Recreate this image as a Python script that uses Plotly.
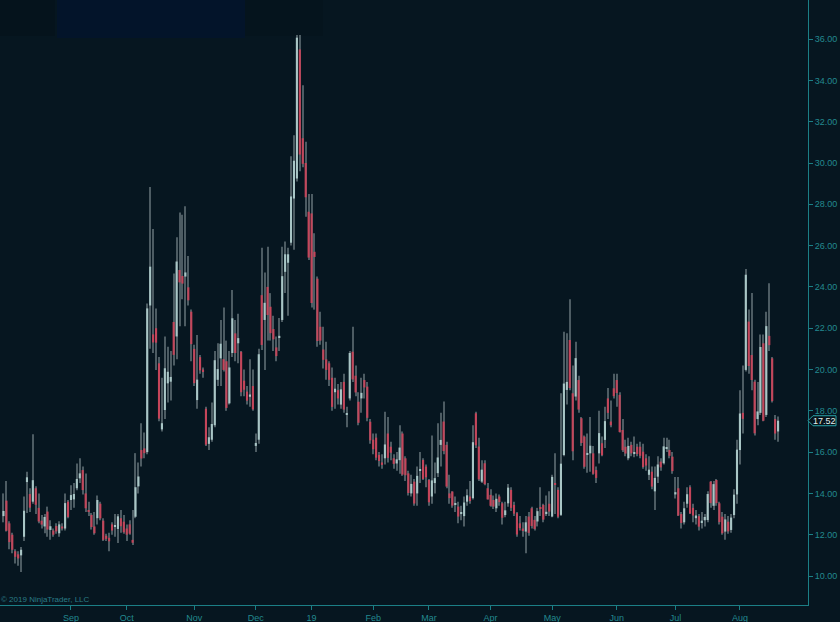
import pandas as pd
import plotly.graph_objects as go

# ---------------- data ----------------
holidays = ["2018-09-03", "2018-11-22", "2018-12-05", "2018-12-25", "2019-01-01",
            "2019-01-21", "2019-02-18", "2019-04-19", "2019-05-27", "2019-07-04"]
dates = pd.bdate_range("2018-08-01", "2019-08-20", freq="C", holidays=holidays)

month_labels = ["Sep", "Oct", "Nov", "Dec", "19", "Feb", "Mar", "Apr", "May", "Jun", "Jul", "Aug"]
y_ticks = [10, 12, 14, 16, 18, 20, 22, 24, 26, 28, 30, 32, 34, 36]

open_ = [
    # Aug 2018
    12.9, 13.65, 12.55, 12.0, 11.2, 11.05, 11.0, 11.9, 14.55, 13.97, 13.6, 14.25, 13.3, 12.68, 12.4, 13.12, 12.23, 12.2, 12.42, 12.07, 12.4, 12.3, 13.6,
    # Sep
    13.68, 13.71, 14.25, 14.73, 15.13, 14.0, 13.2, 12.96, 12.4, 12.8, 13.5, 12.68, 11.95, 11.85, 12.5, 12.4, 12.28, 12.8, 12.63,
    # Oct
    12.3, 12.5, 11.75, 12.87, 14.34, 16.1, 16.18, 16.0, 23.1, 21.7, 22.0, 20.3, 17.1, 18.04, 19.33, 19.41, 22.3, 21.6, 24.82, 24.53, 24.5, 23.98, 22.8,
    # Nov
    21.0, 18.52, 20.6, 20.0, 18.1, 16.4, 16.6, 17.3, 19.5, 20.54, 20.5, 20.4, 18.36, 20.8, 21.75, 21.27, 20.86, 19.46, 18.93, 18.68, 19.2,
    # Dec
    16.3, 16.6, 23.6, 22.4, 24.0, 23.04, 21.96, 21.07, 21.55, 22.4, 24.73, 25.17, 26.14, 28.28, 29.25, 35.5, 31.2, 30.0, 27.64,
    # Jan 2019
    27.56, 25.7, 24.4, 22.07, 20.97, 20.49, 20.3, 19.6, 18.9, 19.0, 18.3, 19.4, 17.8, 18.6, 20.86, 19.7, 18.44, 18.6, 19.49, 19.17, 17.47,
    # Feb
    16.6, 16.7, 15.86, 15.5, 15.7, 16.9, 16.26, 15.7, 15.45, 15.61, 16.9, 15.7, 14.97, 14.0, 14.57, 14.0, 15.1, 15.62, 15.3,
    # Mar
    14.65, 13.85, 14.5, 14.98, 16.35, 17.48, 16.35, 14.0, 14.09, 13.44, 13.36, 13.0, 12.9, 13.6, 13.85, 13.77, 17.88, 16.27, 14.57, 15.46, 14.25,
    # Apr
    13.93, 13.68, 13.28, 13.85, 13.52, 12.95, 13.52, 14.17, 13.44, 13.04, 12.55, 12.3, 12.15, 12.88, 13.28, 12.72, 12.64, 13.3, 13.44, 13.0, 13.5,
    # May
    12.88, 14.5, 14.17, 12.96, 15.86, 19.01, 21.43, 18.85, 18.69, 19.49, 17.64, 16.75, 15.9, 15.94, 15.94, 15.13, 15.94, 16.43, 16.59, 18.6, 17.48, 19.09,
    # Jun
    19.49, 18.77, 17.07, 16.26, 15.7, 16.35, 15.92, 16.26, 16.26, 16.02, 15.7, 14.9, 15.05, 14.1, 14.81, 15.54, 15.46, 16.18, 16.1, 15.78,
    # Jul
    13.95, 14.25, 13.0, 12.6, 13.5, 14.3, 13.3, 12.8, 12.9, 12.6, 12.7, 12.71, 14.57, 13.4, 14.65, 13.52, 12.87, 12.15, 12.63, 12.23, 12.95, 13.95,
    # Aug 2019
    16.1, 17.9, 19.98, 22.32, 20.7, 19.41, 17.6, 17.9, 21.27, 17.8, 21.63, 20.54, 17.6, 17.0,
]
high = [
    14.0, 14.6, 12.65, 12.1, 11.3, 11.2, 11.4, 13.85, 15.05, 14.25, 16.86, 14.35, 14.0, 12.95, 13.0, 13.36, 12.7, 12.3, 12.55, 12.65, 12.55, 14.0, 13.68,
    14.4, 14.5, 15.45, 15.7, 15.3, 14.97, 13.6, 13.05, 13.1, 13.9, 13.6, 12.8, 12.05, 12.1, 12.6, 13.0, 13.0, 13.2, 12.95,
    12.5, 12.7, 13.2, 15.95, 15.5, 17.4, 16.95, 23.2, 28.84, 26.8, 22.95, 20.6, 19.6, 21.6, 21.1, 20.9, 24.65, 26.4, 27.6, 27.5, 27.9, 25.5, 22.9,
    21.2, 21.67, 20.7, 20.1, 18.2, 17.2, 18.4, 20.9, 21.27, 22.4, 23.0, 21.4, 20.9, 23.85, 22.4, 22.7, 20.9, 20.0, 19.2, 20.5, 20.0,
    16.9, 21.0, 25.9, 24.7, 25.94, 23.7, 22.6, 21.6, 22.5, 25.94, 26.2, 25.9, 30.33, 31.35, 36.2, 36.2, 33.77, 31.03, 28.5,
    28.5, 26.6, 24.5, 22.8, 22.07, 21.35, 20.4, 20.1, 19.6, 19.3, 19.4, 19.8, 18.2, 20.9, 22.07, 20.2, 18.9, 19.6, 19.8, 19.4, 17.6,
    16.9, 16.9, 16.0, 15.9, 17.95, 17.7, 16.5, 15.9, 16.0, 17.3, 17.0, 15.8, 15.1, 14.9, 14.7, 15.3, 16.0, 15.7, 15.4,
    14.7, 16.8, 15.5, 17.4, 17.9, 18.45, 16.5, 14.9, 14.1, 13.85, 13.6, 13.4, 13.85, 14.2, 14.6, 17.3, 17.95, 16.7, 15.6, 15.6, 14.5,
    14.2, 13.9, 14.0, 13.95, 13.6, 13.6, 14.45, 14.3, 13.6, 13.1, 12.9, 12.6, 12.9, 13.1, 13.35, 12.9, 13.3, 14.3, 13.5, 13.9, 14.1,
    14.9, 15.95, 14.3, 18.85, 21.83, 21.75, 23.4, 20.2, 21.35, 19.7, 17.7, 16.8, 16.9, 17.7, 16.3, 15.3, 18.0, 16.75, 18.2, 19.1, 18.5, 19.8,
    19.8, 18.9, 17.6, 16.6, 16.7, 16.5, 16.75, 16.4, 16.5, 16.4, 15.9, 15.8, 15.3, 15.3, 15.8, 15.7, 16.7, 16.7, 16.6, 16.0,
    14.8, 14.8, 13.1, 13.6, 14.3, 14.4, 13.5, 13.2, 13.0, 13.1, 13.0, 14.1, 14.6, 14.6, 14.7, 13.6, 13.1, 13.0, 12.9, 13.0, 14.2, 16.6,
    19.0, 20.2, 24.87, 22.9, 23.7, 19.5, 19.4, 21.7, 21.7, 22.8, 24.18, 20.6, 17.8, 17.72,
]
low = [
    12.6, 12.15, 11.3, 11.1, 10.6, 10.5, 10.2, 11.7, 13.05, 13.1, 13.5, 13.0, 12.55, 12.3, 12.07, 11.9, 11.75, 11.9, 12.05, 11.9, 12.2, 12.2, 12.8,
    13.2, 13.3, 14.15, 14.5, 13.95, 13.1, 12.9, 12.25, 12.0, 12.5, 12.7, 11.7, 11.7, 11.2, 12.0, 11.9, 11.6, 12.1, 12.05,
    11.7, 12.0, 11.5, 12.8, 14.0, 15.3, 15.7, 15.9, 21.0, 20.8, 19.98, 17.5, 17.0, 17.6, 18.4, 18.5, 20.2, 20.5, 22.1, 23.4, 22.1, 23.1, 20.4,
    19.2, 18.1, 19.8, 19.6, 16.3, 16.1, 16.5, 17.2, 19.2, 19.2, 19.9, 18.0, 18.3, 20.6, 20.4, 20.3, 18.7, 18.7, 18.3, 18.2, 18.0,
    16.0, 16.4, 20.95, 19.98, 21.4, 21.4, 20.9, 20.4, 20.9, 22.3, 23.7, 22.6, 26.0, 25.8, 29.1, 29.6, 29.8, 27.4, 25.3,
    23.0, 22.9, 21.1, 21.2, 20.05, 19.5, 19.2, 18.0, 18.1, 18.3, 18.1, 17.9, 17.2, 18.5, 19.4, 18.7, 17.3, 17.9, 18.6, 17.5, 16.4,
    15.9, 15.6, 15.3, 15.2, 15.4, 15.5, 15.6, 15.2, 15.1, 14.95, 14.85, 14.6, 13.9, 13.85, 13.4, 13.4, 14.5, 14.65, 14.3,
    13.4, 13.5, 14.0, 14.8, 15.3, 15.9, 14.25, 13.5, 13.3, 13.1, 12.55, 12.7, 12.4, 13.4, 13.5, 13.7, 16.2, 14.6, 14.5, 14.4, 13.7,
    13.35, 13.25, 13.1, 13.4, 12.5, 12.85, 13.35, 13.15, 12.9, 11.9, 12.2, 11.9, 11.1, 11.95, 12.3, 12.2, 12.4, 12.9, 12.6, 12.9, 12.9,
    12.85, 13.0, 12.8, 12.9, 15.8, 18.3, 19.0, 15.6, 18.5, 17.9, 16.3, 15.2, 15.0, 15.05, 14.9, 14.5, 15.45, 15.8, 16.2, 17.6, 17.2, 18.6,
    18.2, 16.95, 16.0, 15.8, 15.6, 15.8, 15.75, 15.8, 15.7, 15.2, 15.1, 14.65, 14.2, 13.2, 14.5, 15.1, 15.4, 16.0, 15.7, 14.95,
    13.75, 12.9, 12.3, 12.5, 13.3, 13.0, 12.6, 12.5, 12.2, 12.3, 12.4, 12.6, 13.3, 13.2, 13.4, 12.5, 12.0, 11.75, 12.05, 12.1, 12.8, 13.5,
    15.4, 16.9, 19.9, 19.8, 19.0, 16.8, 17.3, 17.8, 17.5, 17.7, 20.9, 18.4, 16.6, 16.5,
]
close = [
    13.15, 12.19, 11.64, 11.27, 10.93, 10.85, 11.27, 13.16, 14.78, 13.31, 14.64, 13.45, 12.64, 12.49, 12.86, 12.25, 12.41, 12.0, 12.16, 12.5, 12.3, 13.53, 12.86,
    13.92, 13.97, 14.7, 14.97, 14.16, 13.28, 13.14, 12.37, 12.07, 13.68, 12.79, 11.75, 11.8, 11.68, 12.2, 12.42, 12.89, 12.41, 12.12,
    12.0, 12.05, 11.61, 14.3, 14.82, 15.69, 15.95, 22.96, 24.98, 21.31, 21.3, 17.62, 17.4, 20.06, 19.89, 19.64, 20.71, 25.23, 24.22, 24.16, 24.7, 23.35, 21.23,
    19.34, 19.51, 19.96, 19.91, 16.36, 16.72, 17.36, 20.45, 20.02, 21.25, 19.98, 18.14, 20.1, 22.48, 20.8, 21.52, 18.9, 19.02, 18.49, 18.79, 18.07,
    16.44, 20.74, 21.19, 23.23, 22.64, 21.76, 21.46, 20.65, 21.63, 24.52, 25.58, 25.58, 28.38, 30.11, 36.07, 30.41, 29.96, 28.34, 25.42,
    23.22, 25.45, 21.38, 21.4, 20.47, 19.98, 19.5, 18.19, 19.07, 18.6, 19.04, 18.06, 17.8, 20.8, 19.52, 18.89, 17.42, 18.87, 19.13, 17.66, 16.57,
    16.14, 15.73, 15.57, 15.38, 16.37, 15.72, 15.97, 15.43, 15.65, 16.22, 14.91, 14.88, 14.02, 14.46, 13.51, 14.85, 15.17, 14.7, 14.78,
    13.57, 14.63, 14.74, 15.74, 16.59, 16.05, 14.33, 13.77, 13.41, 13.5, 12.88, 13.1, 13.56, 13.91, 13.63, 16.48, 16.33, 14.68, 15.15, 14.45, 13.71,
    13.4, 13.36, 13.74, 13.58, 12.82, 13.18, 14.28, 13.3, 13.02, 12.01, 12.32, 12.18, 12.6, 12.09, 12.42, 12.28, 13.14, 13.25, 12.73, 13.11, 13.12,
    14.8, 14.42, 12.87, 15.44, 19.32, 19.4, 19.1, 16.04, 20.55, 18.06, 16.44, 15.29, 15.96, 16.31, 14.95, 14.75, 16.92, 15.85, 17.5, 17.9, 17.3, 18.71,
    18.86, 16.97, 16.09, 15.93, 16.3, 15.94, 15.99, 15.91, 15.82, 15.28, 15.35, 15.15, 14.33, 14.75, 15.4, 15.26, 16.28, 16.21, 15.82, 15.08,
    14.06, 12.93, 12.57, 13.28, 13.96, 13.03, 12.93, 12.93, 12.39, 12.68, 12.86, 13.97, 13.53, 14.45, 13.53, 12.61, 12.07, 12.74, 12.16, 12.83, 13.94, 16.12,
    17.87, 17.61, 24.59, 20.17, 19.49, 16.91, 17.97, 21.09, 17.52, 22.1, 21.18, 18.47, 16.9, 17.52,
]

# ---------------- style ----------------
BG = "#061620"
UP = "#a9c6c6"
DOWN = "#c4455a"
WICK = "#4d5c63"
AXIS = "#1b7f86"
TEXT = "#23898f"
FONT = "Liberation Sans, Arial, sans-serif"

n = len(close)
xs = list(range(n))
body_lo = [min(o, c) for o, c in zip(open_, close)]
body_h = [max(abs(c - o), 0.06) for o, c in zip(open_, close)]
body_col = [UP if c >= o else DOWN for o, c in zip(open_, close)]
wick_lo = [min(l, o, c) for l, o, c in zip(low, open_, close)]
wick_h = [max(h, o, c) - wl for h, o, c, wl in zip(high, open_, close, wick_lo)]

# month-start tick positions (first trading day of each month after the first)
tick_pos = []
prev = None
for i, d in enumerate(dates):
    key = (d.year, d.month)
    if key != prev:
        if prev is not None:
            tick_pos.append(i)
        prev = key
tick_pos = tick_pos[:len(month_labels)]

fig = go.Figure()
fig.add_trace(go.Bar(x=xs, base=wick_lo, y=wick_h, width=0.36,
                     marker=dict(color=WICK, line=dict(width=0)), hoverinfo="skip"))
fig.add_trace(go.Bar(x=xs, base=body_lo, y=body_h, width=0.72,
                     marker=dict(color=body_col, line=dict(width=0)), hoverinfo="skip"))

X0, X1 = -1.19, 274.2
Y0, Y1 = 8.596, 37.894

fig.update_layout(
    width=840, height=622,
    margin=dict(l=0, r=32, t=0, b=17),
    paper_bgcolor=BG, plot_bgcolor=BG,
    barmode="overlay", showlegend=False,
    font=dict(family=FONT, size=9, color=TEXT),
    xaxis=dict(range=[X0, X1], showgrid=False, zeroline=False,
               tickmode="array", tickvals=tick_pos, ticktext=month_labels,
               ticks="outside", ticklen=4, tickcolor=AXIS, tickwidth=1,
               showline=True, linecolor=AXIS, linewidth=1,
               tickfont=dict(family=FONT, size=9, color=TEXT), fixedrange=True),
    yaxis=dict(range=[Y0, Y1], side="right", showgrid=False, zeroline=False,
               tickmode="array", tickvals=y_ticks,
               ticktext=[f"{v:.2f}" for v in y_ticks],
               ticks="outside", ticklen=4, tickcolor=AXIS, tickwidth=1,
               showline=True, linecolor=AXIS, linewidth=1,
               tickfont=dict(family=FONT, size=9, color=TEXT), fixedrange=True),
)

# faint header panel at top-left
fig.add_shape(type="rect", xref="paper", yref="paper",
              x0=57 / 808, x1=245 / 808, y0=1 - 38 / 605, y1=1,
              fillcolor="#03142a", line=dict(width=0), layer="below")
fig.add_shape(type="rect", xref="paper", yref="paper",
              x0=0, x1=55 / 808, y0=1 - 36 / 605, y1=1,
              fillcolor="#05131c", line=dict(width=0), layer="below")
fig.add_shape(type="rect", xref="paper", yref="paper",
              x0=245 / 808, x1=323 / 808, y0=1 - 36 / 605, y1=1,
              fillcolor="#05141d", line=dict(width=0), layer="below")

# last price marker
last = close[-1]
py = (last - Y0) / (Y1 - Y0)
hh = 5 / 605
px = 1 / 808
fig.add_shape(type="path", xref="paper", yref="paper",
              path=(f"M 1.0 {py} L {1 + 5 * px} {py + hh} L {1 + 28 * px} {py + hh} "
                    f"L {1 + 28 * px} {py - hh} L {1 + 5 * px} {py - hh} Z"),
              fillcolor="#07141b", line=dict(color="#2aa3a8", width=1))
fig.add_annotation(xref="paper", yref="paper", x=1 + 17 * px, y=py,
                   text=f"{last:.2f}", showarrow=False, xanchor="center", yanchor="middle",
                   font=dict(family=FONT, size=9, color="#e6eeee"))

fig.add_annotation(xref="paper", yref="paper", x=0, y=0, xanchor="left", yanchor="bottom",
                   text="© 2019 NinjaTrader, LLC", showarrow=False,
                   font=dict(family=FONT, size=8, color="#2a7c86"), borderpad=0)

fig.write_html("out.html", config={"displayModeBar": False},
               post_script="document.body.style.margin='0';document.body.style.overflow='hidden';")
